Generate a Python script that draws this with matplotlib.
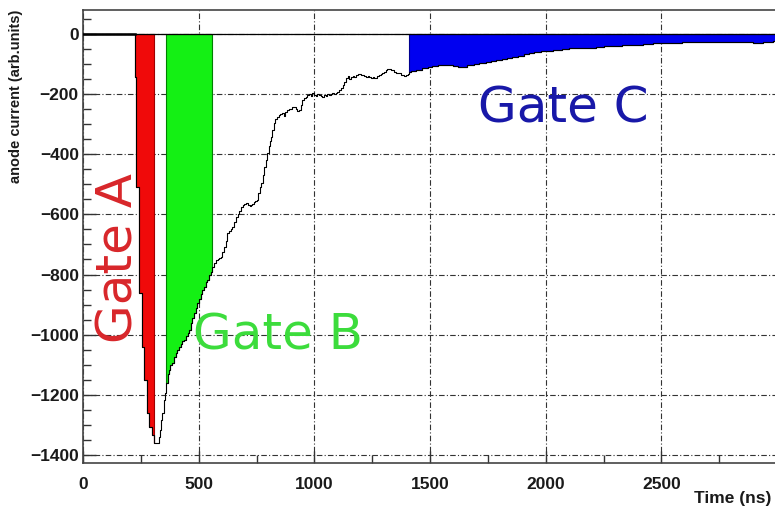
import numpy as np
import matplotlib.pyplot as plt

# anode current waveform (histogram bins, left edge in ns)
time_ns = [0, 225, 230, 242, 255, 264, 277, 285, 298, 307, 329, 333, 338, 343, 350, 355,
           359, 366, 372, 378, 385, 393, 402, 408, 415, 424, 430, 437, 444, 452, 459, 466,
           473, 480, 487, 494, 501, 508, 515, 522, 530, 537, 545, 552, 559, 567, 575, 583,
           590, 596, 603, 610, 616, 623, 630, 638, 646, 653, 661, 668, 675, 683, 690, 697,
           705, 712, 720, 726, 731, 738, 745, 752, 758, 764, 770, 776, 783, 790, 796, 803,
           808, 813, 819, 826, 832, 839, 846, 853, 861, 868, 875, 883, 890, 897, 905, 912,
           920, 927, 934, 941, 948, 955, 962, 970, 977, 984, 991, 998, 1006, 1013, 1020, 1028,
           1035, 1042, 1049, 1056, 1063, 1071, 1078, 1086, 1093, 1100, 1107, 1115, 1122, 1130, 1137, 1145,
           1152, 1158, 1165, 1172, 1180, 1187, 1194, 1202, 1209, 1216, 1223, 1230, 1237, 1245, 1252, 1259,
           1266, 1273, 1280, 1287, 1293, 1300, 1308, 1316, 1323, 1330, 1338, 1345, 1352, 1359, 1366, 1374,
           1381, 1388, 1395, 1403, 1410, 1420, 1440, 1466, 1490, 1510, 1535, 1569, 1600, 1620, 1640, 1660,
           1690, 1712, 1740, 1765, 1786, 1810, 1835, 1856, 1880, 1905, 1929, 1950, 1980, 2004, 2030, 2050,
           2072, 2100, 2125, 2147, 2180, 2217, 2250, 2288, 2330, 2375, 2420, 2463, 2500, 2535, 2590, 2650,
           2720, 2795, 2850, 2895, 2940, 2983, 3000]
current = [0, -143, -508, -860, -1040, -1150, -1260, -1306, -1333, -1360, -1340, -1317, -1284, -1260, -1217, -1194,
           -1160, -1130, -1117, -1100, -1094, -1075, -1061, -1050, -1041, -1030, -1022, -1018, -1005, -995, -984, -960,
           -945, -928, -910, -895, -880, -866, -851, -840, -826, -818, -800, -790, -775, -760, -752, -748,
           -745, -741, -725, -708, -690, -662, -655, -650, -642, -625, -608, -598, -590, -575, -568, -565,
           -562, -568, -572, -569, -566, -560, -556, -552, -530, -510, -495, -470, -442, -420, -396, -372,
           -355, -342, -320, -296, -282, -276, -270, -266, -263, -272, -258, -253, -248, -250, -244, -242,
           -248, -256, -253, -235, -219, -214, -210, -203, -200, -206, -196, -202, -205, -198, -203, -207,
           -209, -202, -206, -199, -203, -200, -197, -199, -196, -193, -186, -180, -170, -158, -146, -140,
           -148, -143, -138, -142, -136, -134, -133, -137, -135, -139, -144, -141, -143, -147, -144, -146,
           -146, -140, -136, -132, -130, -125, -120, -116, -116, -121, -119, -126, -128, -131, -130, -135,
           -137, -140, -137, -133, -126, -122, -118, -113, -109, -106, -104, -103, -107, -109, -110, -104,
           -99, -96, -92, -89, -86, -83, -80, -76, -72, -68, -63, -61, -58, -56, -53, -52,
           -50, -48, -47, -46, -45, -43, -41, -40, -38, -36, -33, -30, -31, -30, -28, -26,
           -27, -26, -28, -30, -25, -23, -23]

# integration gates (ns)
gate_names = ["Gate A", "Gate B", "Gate C"]
gate_start = [225, 359, 1410]
gate_stop = [307, 559, 3000]
gate_fill = ["#f00a0a", "#14f014", "#0000f0"]
gate_edge = ["#a00000", "#008000", "#000090"]
gate_text = ["#d8262a", "#3cdc3c", "#1818a8"]

t = np.array(time_ns)
v = np.array(current)

fig = plt.figure(figsize=(7.75, 5.14), dpi=100)
ax = fig.add_axes([83/775, 51/514, 694/775, 453/514])

for a, b, fc, ec in zip(gate_start, gate_stop, gate_fill, gate_edge):
    sel = (t >= a) & (t <= b)
    ax.fill_between(t[sel], v[sel], 0, step="post", facecolor=fc,
                    edgecolor=ec, linewidth=0.8, zorder=2)

ax.axhline(0, color="black", lw=0.9, zorder=3)
ax.plot(t, v, drawstyle="steps-post", color="black", lw=0.8, zorder=4)
ax.plot([0, 225], [0, 0], color="black", lw=1.8, zorder=4)

ax.text(216, -745, gate_names[0], rotation=90, rotation_mode="anchor",
        ha="center", va="baseline", fontsize=36, color=gate_text[0], family="DejaVu Sans")
ax.text(475, -1050, gate_names[1], ha="left", va="baseline",
        fontsize=36, color=gate_text[1], family="DejaVu Sans")
ax.text(1708, -293, gate_names[2], ha="left", va="baseline",
        fontsize=36, color=gate_text[2], family="DejaVu Sans")

ax.set_xlim(0, 3000)
ax.set_ylim(-1427, 80)
ax.set_xticks(np.arange(0, 3000, 500))
ax.set_xticks(np.arange(0, 3001, 250), minor=True)
ax.set_yticks(np.arange(-1400, 1, 200))
ax.set_yticks(np.arange(-1400, 81, 50), minor=True)
ax.grid(True, which="major", color="#333333", lw=0.8, linestyle=(0, (5, 2, 1, 2)), zorder=1)
ax.set_axisbelow(True)

ax.tick_params(which="both", direction="in", top=False, right=False, color="#333333")
ax.tick_params(which="major", length=9, width=1)
ax.tick_params(which="minor", length=6, width=1)
ax.tick_params(axis="x", pad=10)
ax.tick_params(axis="y", pad=3)
for lab in ax.get_xticklabels() + ax.get_yticklabels():
    lab.set_fontfamily("Liberation Sans")
    lab.set_fontweight("bold")
    lab.set_fontsize(12.5)
    lab.set_color("#1a1a1a")

for s in ax.spines.values():
    s.set_color("#444444")
    s.set_linewidth(1.2)

fig.text(16/775, 1 - 10/514, "anode current (arb.units)", rotation=90, ha="center", va="top",
         fontsize=10.5, fontweight="bold", family="Liberation Sans", color="#1a1a1a")
fig.text(771/775, 1 - 498/514, "Time (ns)", ha="right", va="center",
         fontsize=12.5, fontweight="bold", family="Liberation Sans", color="#1a1a1a")

fig.savefig("out.png", dpi=100)
